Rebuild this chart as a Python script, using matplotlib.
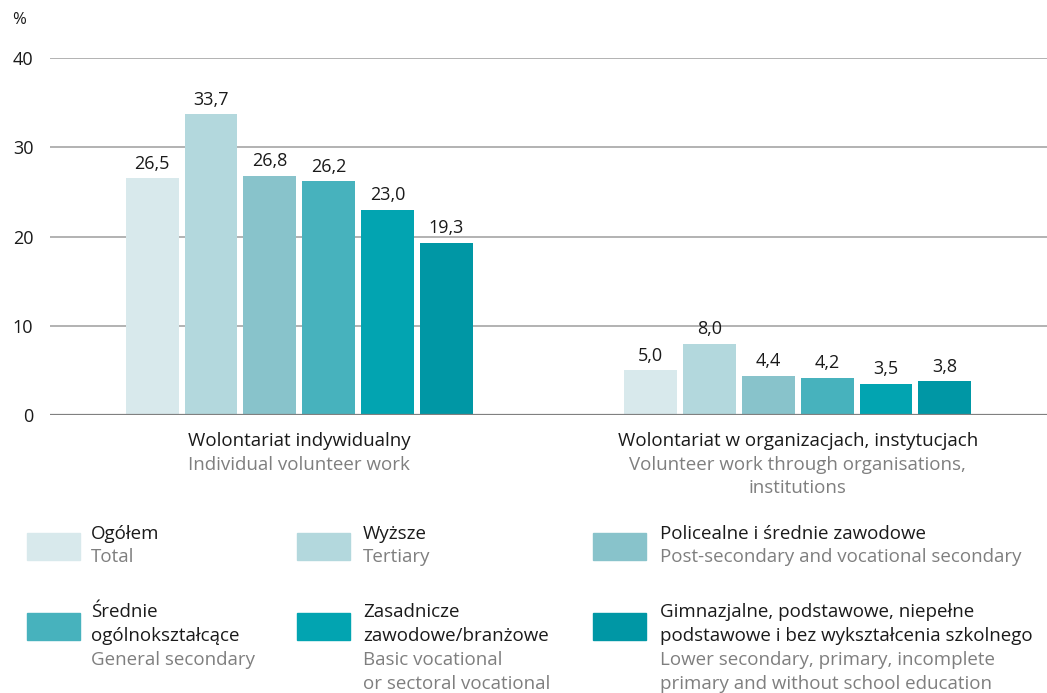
import numpy as np
import matplotlib.pyplot as plt
from matplotlib.patches import Rectangle

plt.rcParams['font.family'] = ['Open Sans', 'DejaVu Sans']

groups_pl = ['Wolontariat indywidualny', 'Wolontariat w organizacjach, instytucjach']
groups_en = ['Individual volunteer work', 'Volunteer work through organisations,\ninstitutions']
series_pl = ['Ogółem', 'Wyższe', 'Policealne i średnie zawodowe',
             'Średnie\nogólnokształcące', 'Zasadnicze\nzawodowe/branżowe',
             'Gimnazjalne, podstawowe, niepełne\npodstawowe i bez wykształcenia szkolnego']
series_en = ['Total', 'Tertiary', 'Post-secondary and vocational secondary',
             'General secondary', 'Basic vocational\nor sectoral vocational',
             'Lower secondary, primary, incomplete\nprimary and without school education']
values = [[26.5, 5.0], [33.7, 8.0], [26.8, 4.4], [26.2, 4.2], [23.0, 3.5], [19.3, 3.8]]
colors = ['#d8e9ec', '#b3d8dd', '#88c3cb', '#47b2bd', '#02a4b1', '#0097a5']

W, H = 1047, 693
fig = plt.figure(figsize=(W / 100, H / 100), dpi=100)
ax = fig.add_axes([50 / W, 1 - 415 / H, 997 / W, 357 / H])

x = np.arange(len(groups_pl))
step, width = 0.118, 0.106
for i, (vals, c) in enumerate(zip(values, colors)):
    pos = x + (i - 2.5) * step
    ax.bar(pos, vals, width=width, color=c, zorder=3)
    for p, v in zip(pos, vals):
        ax.text(p, v + 0.6, f'{v:.1f}'.replace('.', ','), ha='center', va='bottom',
                fontsize=13, color='#1a1a1a')

ax.set_xlim(-0.5, 1.5)
ax.set_ylim(0, 40)
ax.set_yticks([0, 10, 20, 30, 40])
ax.yaxis.grid(True, color='#a6a6a6', linewidth=1.2, zorder=0)
ax.axhline(0, color='#808080', linewidth=1.6, zorder=4)
for s in ax.spines.values():
    s.set_visible(False)
ax.tick_params(axis='y', length=0, labelsize=13, pad=12, labelcolor='#1a1a1a')
ax.set_xticks([])

fig.text(12 / W, 1 - 20 / H, '%', fontsize=12, va='center', ha='left', color='#1a1a1a')

# category labels
for xi, pl, en in zip(x, groups_pl, groups_en):
    xf = (50 + (xi + 0.5) * 498.5) / W
    fig.text(xf, 1 - 441 / H, pl, ha='center', va='center', fontsize=13.5, color='#1a1a1a')
    for k, line in enumerate(en.split('\n')):
        fig.text(xf, 1 - (465 + 23 * k) / H, line, ha='center', va='center',
                 fontsize=13.5, color='#7f7f7f')

# legend
box_x = [27, 297, 593]
text_x = [91, 363, 660]
box_y = [533, 613]
line_y = [534, 612]
for i in range(6):
    r, c = divmod(i, 3)
    fig.add_artist(Rectangle((box_x[c] / W, 1 - (box_y[r] + 27) / H), 53 / W, 27 / H,
                             transform=fig.transFigure, color=colors[i]))
    lines = [(s, '#1a1a1a') for s in series_pl[i].split('\n')] + \
            [(s, '#7f7f7f') for s in series_en[i].split('\n')]
    pitch = 23 if r == 0 else 24
    for k, (line, col) in enumerate(lines):
        fig.text(text_x[c] / W, 1 - (line_y[r] + k * pitch) / H, line, fontsize=13.5,
                 va='center', ha='left', color=col)

fig.savefig('out.png', dpi=100)
